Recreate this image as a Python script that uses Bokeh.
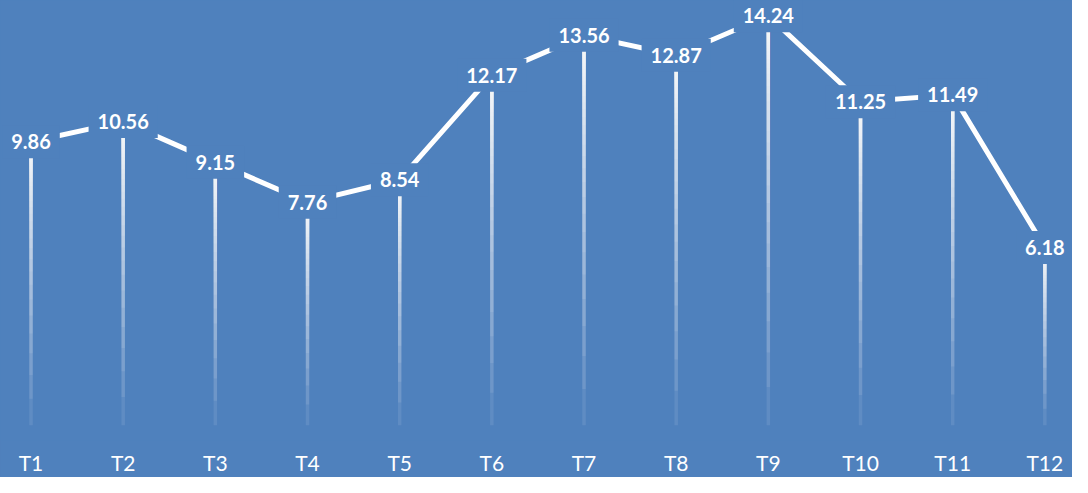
import numpy as np
from bokeh.plotting import figure
from bokeh.models import ColumnDataSource, FixedTicker, Range1d
from bokeh.core.properties import value
from bokeh.embed import file_html
from bokeh.resources import INLINE

categories = ["T1", "T2", "T3", "T4", "T5", "T6", "T7", "T8", "T9", "T10", "T11", "T12"]
values = [9.86, 10.56, 9.15, 7.76, 8.54, 12.17, 13.56, 12.87, 14.24, 11.25, 11.49, 6.18]
labels = [f"{v:.2f}" for v in values]

BG = "#4F81BD"
xs = list(range(len(categories)))

p = figure(width=1072, height=477, output_backend="svg", toolbar_location=None,
           x_range=Range1d(-0.331, 11.30), y_range=Range1d(-0.530, 14.772),
           min_border_left=0, min_border_right=0, min_border_top=0)
p.styles = {"background-color": BG}
p.background_fill_color = BG
p.border_fill_color = BG
p.outline_line_color = None
p.xgrid.visible = False
p.ygrid.visible = False
p.yaxis.visible = False

# gradient drop lines: overlapping translucent strokes from the point downward,
# lengths chosen so the summed opacity fades roughly linearly toward zero
N = 40
a = 1 - 0.02 ** (1 / N)
x0, y0, y1 = [], [], []
for x, v in zip(xs, values):
    for k in range(0, N + 1):
        t = (1 - a) ** k
        x0.append(x)
        y0.append(v)
        y1.append(v * (1 - t))
p.segment(x0=x0, y0=y0, x1=x0, y1=y1, line_color="white", line_alpha=a,
          line_width=3.5, line_cap="butt")

src = ColumnDataSource(dict(x=xs, y=values, t=labels))
p.line("x", "y", source=src, line_color="white", line_width=5)
p.text("x", "y", text="t", source=src, text_color="white",
       text_font=value("Lato"), text_font_style="bold", text_font_size="20px",
       text_align="center", text_baseline="middle",
       background_fill_color=BG, padding=dict(x=9, y=9))

ax = p.xaxis[0]
ax.ticker = FixedTicker(ticks=xs)
ax.major_label_overrides = {i: c for i, c in zip(xs, categories)}
ax.axis_line_color = None
ax.major_tick_line_color = None
ax.minor_tick_line_color = None
ax.major_label_standoff = 3
ax.major_label_text_color = "white"
ax.major_label_text_font = "Lato"
ax.major_label_text_font_size = "21px"

open("out.html", "w").write(file_html(p, INLINE))
